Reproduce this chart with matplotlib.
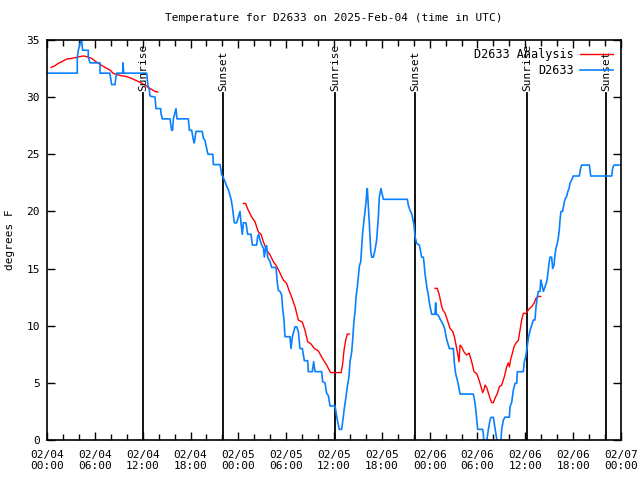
import matplotlib
matplotlib.use('Agg')
import matplotlib.pyplot as plt
from matplotlib.ticker import MultipleLocator

# hours since 02/04 00:00 UTC
obs_hours = [0.0, 3.8, 3.8, 3.93, 4.27, 4.35, 4.47, 5.18, 5.18, 5.39, 6.65, 6.65, 7.9, 7.95, 8.11,
             8.53, 8.61, 8.74, 9.49, 9.53, 9.62, 12.5, 12.65, 12.84, 12.92, 13.55, 13.67, 14.26,
             14.3, 14.45, 15.43, 15.5, 15.64, 15.75, 15.85, 16.18, 16.3, 17.73, 17.86, 18.15,
             18.36, 18.48, 18.69, 19.48, 19.61, 19.82, 20.12, 20.2, 20.8, 20.87, 21.7, 21.83,
             21.91, 22.1, 22.33, 22.54, 22.75, 23.08, 23.25, 23.5, 23.79, 24.0, 24.21, 24.33,
             24.5, 24.63, 24.96, 25.17, 25.59, 25.76, 26.3, 26.42, 26.55, 26.72, 26.93, 27.14,
             27.26, 27.43, 27.55, 27.68, 27.98, 28.18, 28.73, 28.85, 29.02, 29.23, 29.43, 29.56,
             29.73, 29.85, 30.48, 30.61, 30.78, 31.11, 31.32, 31.53, 31.73, 32.03, 32.28, 32.7,
             32.78, 33.28, 33.45, 33.62, 34.45, 34.58, 34.87, 35.08, 35.29, 35.5, 36.13, 36.34,
             36.55, 36.67, 36.96, 37.17, 37.26, 37.51, 37.67, 37.88, 38.01, 38.22, 38.34, 38.51,
             38.64, 38.76, 38.93, 39.05, 39.18, 39.35, 39.47, 39.6, 39.77, 39.89, 40.02, 40.1,
             40.18, 40.31, 40.43, 40.6, 40.73, 40.93, 41.14, 41.35, 41.56, 41.69, 41.89, 42.02,
             42.19, 45.2, 45.32, 45.53, 45.74, 45.87, 46.04, 46.16, 46.37, 46.7, 46.87, 46.99,
             47.21, 47.29, 47.41, 47.54, 47.71, 47.83, 47.96, 48.13, 48.25, 48.67, 48.75, 48.85,
             49.09, 49.38, 49.72, 49.93, 50.05, 50.22, 50.47, 50.97, 51.1, 51.26, 51.47, 51.6,
             51.81, 53.48, 53.69, 53.81, 54.02, 54.65, 54.73, 54.82, 55.07, 55.36, 55.57, 55.7,
             55.99, 56.2, 56.41, 56.62, 56.91, 57.03, 57.24, 57.45, 58.0, 58.08, 58.29, 58.5,
             58.71, 58.92, 59.0, 59.75, 59.88, 60.05, 60.2, 60.4, 60.6, 61.0, 61.21, 61.34,
             61.5, 61.63, 61.84, 61.93, 62.05, 62.26, 62.47, 62.68, 62.8, 62.97, 63.09, 63.3,
             63.43, 63.6, 63.72, 63.85, 64.01, 64.14, 64.26, 64.35, 64.47, 64.68, 64.85, 64.97,
             65.18, 65.31, 65.48, 65.6, 65.81, 66.02, 66.77, 66.94, 67.07, 68.03, 68.2, 70.83,
             70.96, 71.13, 72.0]
obs_temp = [32.1, 32.1, 33.5, 34.1, 35.0, 35.0, 34.1, 34.1, 33.5, 33.0, 33.0, 32.1, 32.1, 31.8, 31.1,
            31.1, 31.6, 32.1, 32.1, 33.0, 32.1, 32.1, 31.1, 30.6, 30.1, 30.0, 29.0, 29.0,
            28.6, 28.1, 28.1, 27.7, 27.1, 27.1, 28.1, 29.0, 28.1, 28.1, 27.1, 27.1,
            26.25, 26.0, 27.0, 27.0, 26.4, 26.2, 25.2, 25.0, 25.0, 24.1, 24.1, 23.6,
            23.2, 23.0, 22.6, 22.2, 21.9, 21.1, 20.4, 19.0, 19.0, 19.5, 20.0, 19.0,
            18.0, 19.0, 19.0, 18.0, 18.0, 17.06, 17.06, 17.8, 18.0, 17.5, 17.06, 16.8,
            16.0, 16.9, 17.0, 16.0, 15.6, 15.1, 15.1, 14.0, 13.1, 13.0, 12.7, 11.5,
            10.5, 9.04, 9.04, 8.0, 9.04, 9.9, 9.9, 9.5, 8.0, 8.0, 6.94, 6.94,
            5.98, 5.98, 6.85, 5.98, 5.98, 5.1, 5.0, 4.08, 3.9, 2.98, 2.98, 2.04,
            1.3, 0.93, 0.93, 2.04, 2.6, 3.79, 4.66, 5.54, 6.85, 7.7, 8.75, 10.5,
            11.2, 12.5, 13.4, 14.3, 15.2, 15.6, 16.9, 18.2, 19.25, 20.0, 20.85, 21.6,
            22.0, 20.4, 18.96, 16.6, 16.0, 16.0, 16.6, 17.5, 19.5, 21.3, 22.0, 21.6,
            21.06, 21.06, 20.56, 20.1, 19.8, 19.4, 18.8, 17.8, 17.2, 17.06, 16.5, 16.0,
            16.0, 15.5, 14.6, 13.9, 13.1, 12.7, 12.0, 11.4, 11.0, 11.0, 12.0, 11.0,
            10.9, 10.5, 10.06, 9.6, 9.04, 8.6, 8.0, 8.0, 6.7, 5.8, 5.25, 4.8,
            4.02, 4.02, 3.2, 2.48, 0.93, 0.93, 0.58, -0.5, -0.5, 0.9, 1.75, 1.98,
            1.98, 1.0, 0.1, -0.5, -0.5, 0.9, 1.75, 2.0, 2.0, 2.9, 3.3, 4.37,
            4.96, 4.96, 5.98, 5.98, 6.85, 7.3, 8.0, 9.0, 9.6, 10.5, 10.5, 11.66,
            12.5, 13.0, 13.0, 14.0, 13.7, 13.0, 13.4, 13.85, 14.4, 15.45, 16.0, 16.0,
            15.0, 15.3, 16.2, 16.8, 17.2, 17.7, 18.4, 19.25, 20.0, 20.0, 20.7, 21.06,
            21.3, 21.7, 22.0, 22.46, 22.75, 23.1, 23.1, 23.8, 24.06, 24.06, 23.1, 23.1,
            23.8, 24.06, 24.06]

# analysis runs (three separate segments)
ana1_hours = [0.5, 1.0, 1.42, 1.84, 2.47, 3.09, 3.72, 4.14, 4.56, 4.98, 5.6, 6.02, 6.65, 7.27,
              7.9, 8.32, 8.74, 9.37, 9.99, 10.62, 11.04, 11.67, 12.29, 12.71, 13.13, 13.55, 13.88]
ana1_temp = [32.6, 32.75, 32.96, 33.1, 33.33, 33.39, 33.48, 33.55, 33.6, 33.55, 33.39, 33.16, 32.87,
             32.6, 32.37, 32.08, 31.98, 31.87, 31.8, 31.64, 31.5, 31.3, 31.06, 30.85, 30.68, 30.5, 30.45]
ana2_hours = [24.63, 24.9, 25.25, 25.68, 26.09, 26.51, 26.85, 27.14, 27.55, 27.98, 28.39, 28.81,
              29.23, 29.64, 30.06, 30.35, 30.69, 31.11, 31.53, 32.03, 32.36, 32.7, 33.12, 33.53,
              34.03, 34.54, 35.08, 35.5, 35.6, 36.9, 37.09, 37.26, 37.47, 37.67, 37.92]
ana2_temp = [20.7, 20.7, 20.1, 19.5, 19.1, 18.2, 18.0, 17.35, 16.6, 16.2, 15.6, 15.2,
             14.6, 14.0, 13.7, 13.1, 12.5, 11.66, 10.5, 10.3, 9.6, 8.6, 8.4, 8.0,
             7.8, 7.15, 6.56, 5.98, 5.9, 5.9, 6.7, 7.87, 8.75, 9.27, 9.27]
ana3_hours = [48.67, 48.95, 49.21, 49.42, 49.63, 49.93, 50.22, 50.55, 50.89, 51.1, 51.31, 51.47,
              51.68, 51.81, 52.02, 52.31, 52.64, 52.95, 53.27, 53.56, 53.9, 54.19, 54.44, 54.65,
              54.82, 54.94, 55.15, 55.36, 55.57, 55.78, 55.99, 56.2, 56.49, 56.74, 57.03, 57.37,
              57.66, 57.87, 58.0, 58.16, 58.37, 58.58, 58.83, 59.12, 59.33, 59.54, 59.75, 60.08,
              60.5, 60.8, 61.09, 61.34, 61.6, 61.93]
ana3_temp = [13.27, 13.27, 12.7, 11.96, 11.4, 11.1, 10.5, 9.77, 9.5, 9.04, 8.3, 7.7,
             6.85, 8.3, 8.15, 7.7, 7.44, 7.6, 6.85, 5.98, 5.8, 5.25, 4.66, 4.14,
             4.4, 4.8, 4.6, 4.14, 3.65, 3.27, 3.27, 3.65, 4.08, 4.66, 4.8, 5.54,
             6.41, 6.75, 6.4, 7.06, 7.58, 8.16, 8.5, 8.7, 9.6, 10.5, 11.08, 11.08,
             11.5, 11.66, 11.96, 12.4, 12.56, 12.56]

sun_hours = [12.04, 22.08, 36.13, 46.16, 60.21, 70.12]
sun_labels = ['Sunrise', 'Sunset', 'Sunrise', 'Sunset', 'Sunrise', 'Sunset']

tick_hours = list(range(0, 73, 6))
tick_labels = ['02/04\n00:00', '02/04\n06:00', '02/04\n12:00', '02/04\n18:00',
               '02/05\n00:00', '02/05\n06:00', '02/05\n12:00', '02/05\n18:00',
               '02/06\n00:00', '02/06\n06:00', '02/06\n12:00', '02/06\n18:00',
               '02/07\n00:00']

plt.rcParams['font.family'] = 'DejaVu Sans Mono'
plt.rcParams['font.size'] = 8

fig = plt.figure(figsize=(6.4, 4.8), dpi=100)
ax = fig.add_axes([47 / 640, 40 / 480, 574 / 640, 400 / 480])

# sunrise / sunset markers
for h, lab in zip(sun_hours, sun_labels):
    ax.plot([h, h], [0, 30.4], color='black', lw=1.3)
    ax.text(h, 30.5, lab, rotation=90, ha='center', va='bottom', fontsize=8)

red = '#ff0000'
ax.plot(ana1_hours, ana1_temp, color=red, lw=1, label='D2633 Analysis')
ax.plot(ana2_hours, ana2_temp, color=red, lw=1)
ax.plot(ana3_hours, ana3_temp, color=red, lw=1)
ax.plot(obs_hours, obs_temp, color='#0a80ff', lw=1.2, label='D2633')

ax.set_xlim(0, 72)
ax.set_ylim(0, 35)
ax.set_xticks(tick_hours)
ax.set_xticklabels(tick_labels, linespacing=1.15)
ax.xaxis.set_minor_locator(MultipleLocator(2))
ax.set_yticks(range(0, 36, 5))
ax.tick_params(which='both', direction='in', top=True, right=True, width=1)
ax.tick_params(which='major', length=6)
ax.tick_params(which='minor', length=4)
ax.tick_params(axis='x', pad=7)
ax.tick_params(axis='y', pad=5)
for s in ax.spines.values():
    s.set_linewidth(1.2)

ax.set_title('Temperature for D2633 on 2025-Feb-04 (time in UTC)', fontsize=8, pad=14)
fig.text(10 / 640, 0.5, 'degrees F', rotation=90, ha='center', va='center', fontsize=8)

ax.legend(loc='upper right', frameon=False, markerfirst=False, handlelength=2.8,
          handletextpad=0.5, labelspacing=0.25, borderaxespad=0.3, fontsize=8.5)

plt.savefig('out.png', dpi=100)
